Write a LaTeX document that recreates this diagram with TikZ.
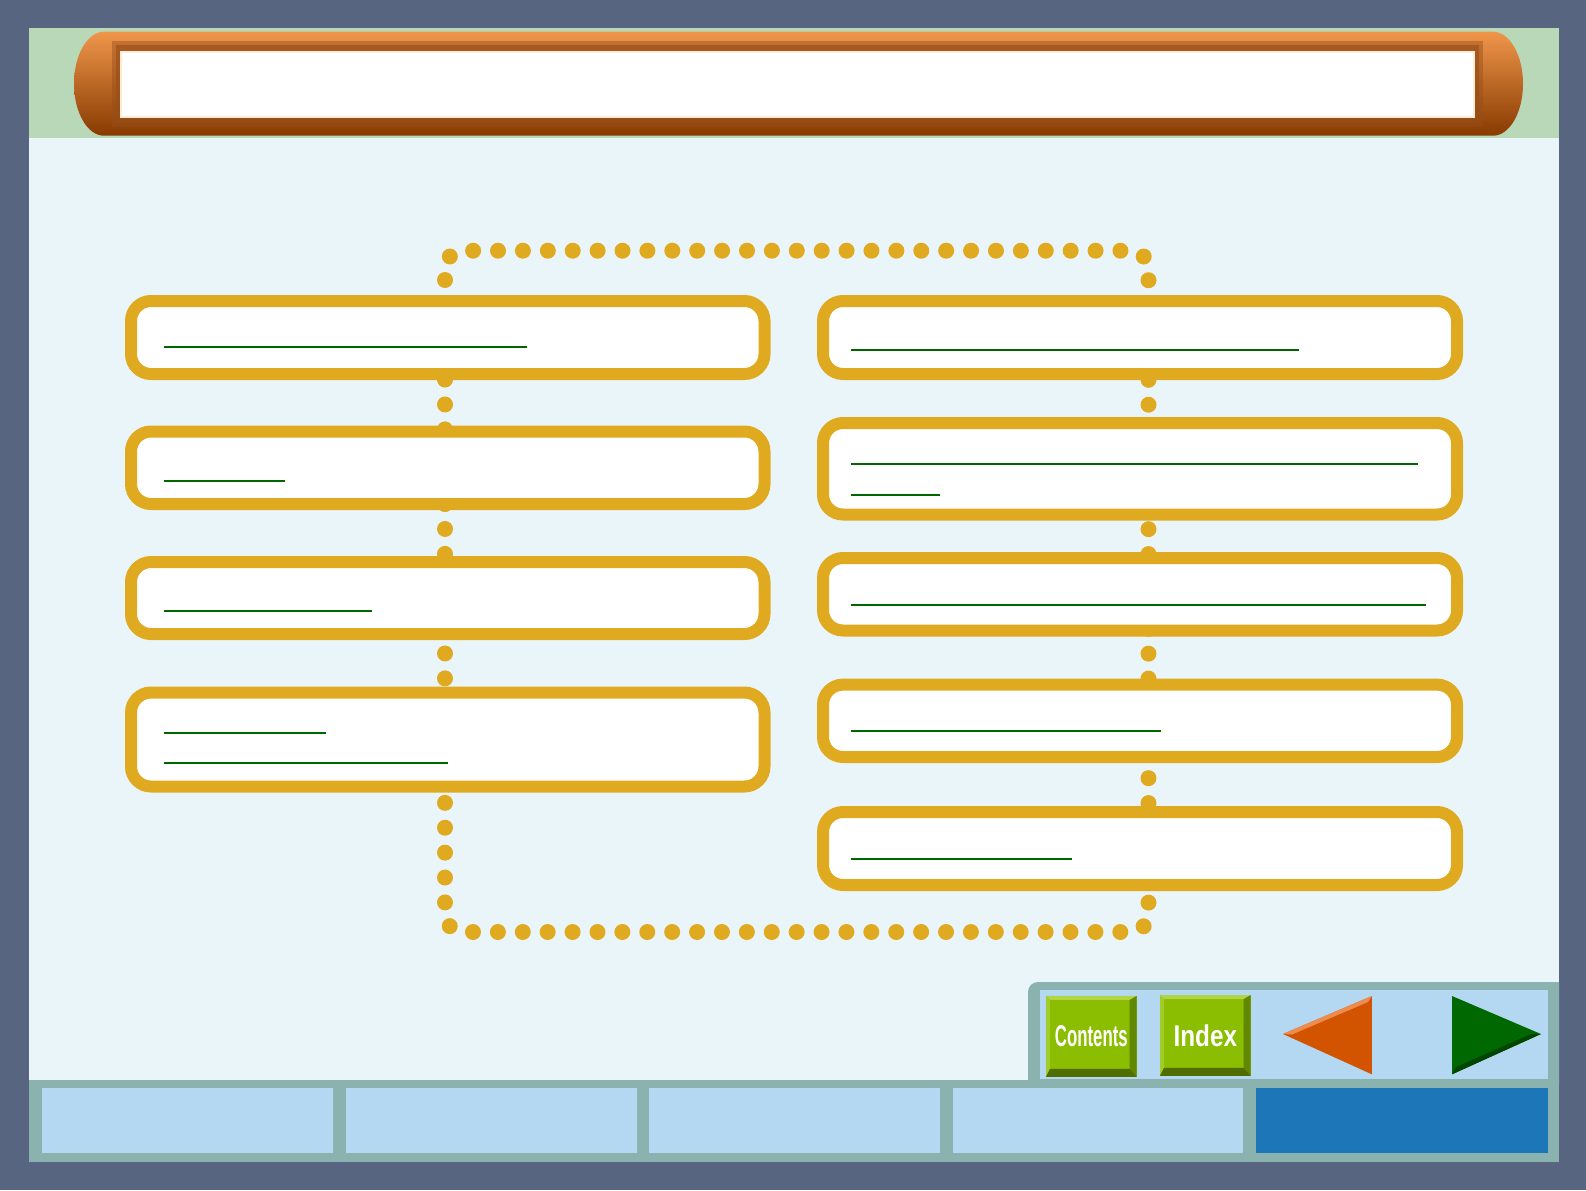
\documentclass[tikz,border=0pt]{standalone}
\usepackage{fontspec}
\setmainfont{Liberation Sans}
\usepackage{graphicx}
\usepackage{tikz}
\usepackage{xcolor}

\definecolor{frameBg}{RGB}{87,101,128}
\definecolor{pageBg}{RGB}{234,245,250}
\definecolor{bandGreen}{RGB}{184,216,184}
\definecolor{capTop}{RGB}{240,150,75}
\definecolor{capMid}{RGB}{215,108,30}
\definecolor{capBot}{RGB}{135,58,0}
\definecolor{capShadow}{RGB}{150,78,25}
\definecolor{capEdge}{RGB}{255,236,210}
\definecolor{menuGold}{RGB}{223,170,31}
\definecolor{linkGreen}{RGB}{0,102,0}
\definecolor{tealFrame}{RGB}{138,178,174}
\definecolor{tabBlue}{RGB}{181,216,242}
\definecolor{tabActive}{RGB}{28,118,184}
\definecolor{navGreen}{RGB}{139,189,0}
\definecolor{navLight}{RGB}{176,214,70}
\definecolor{navDark}{RGB}{98,135,0}
\definecolor{navDarker}{RGB}{80,110,0}
\definecolor{navOrange}{RGB}{210,84,0}
\definecolor{navOrangeLt}{RGB}{238,140,80}
\definecolor{navFwd}{RGB}{0,104,0}
\definecolor{navFwdDk}{RGB}{0,70,0}

\newcommand{\btnbevel}[1]{%
  \fill[navLight] (#1.north west) -- (#1.north east) -- ([xshift=-3.5pt,yshift=-2pt]#1.north east) -- ([xshift=2pt,yshift=-2pt]#1.north west) -- cycle;
  \fill[navLight!60!navGreen] (#1.north west) -- ([xshift=2pt,yshift=-2pt]#1.north west) -- ([xshift=2pt,yshift=4pt]#1.south west) -- (#1.south west) -- cycle;
  \fill[navDark] (#1.north east) -- (#1.south east) -- ([xshift=-3.5pt,yshift=4pt]#1.south east) -- ([xshift=-3.5pt,yshift=-2pt]#1.north east) -- cycle;
  \fill[navDarker] (#1.south west) -- (#1.south east) -- ([xshift=-3.5pt,yshift=4pt]#1.south east) -- ([xshift=2pt,yshift=4pt]#1.south west) -- cycle;}

\begin{document}
\begin{tikzpicture}[x=0.5pt, y=-0.5pt,
  menubox/.style={rectangle, draw=menuGold, fill=white, line width=6pt, rounded corners=10pt, inner sep=0pt, outer sep=0pt},
  leftbox/.style={menubox, minimum width=316.75pt},
  rightbox/.style={menubox, minimum width=317pt},
  linkline/.style={draw=linkGreen, line width=1pt},
  dotloop/.style={draw=menuGold, line width=8pt, line cap=round, dash pattern=on 0pt off 12.4485pt, dash phase=6.8pt, rounded corners=9pt},
  navbtn/.style={rectangle, fill=navGreen, text=white, font=\bfseries\fontsize{15}{15}\selectfont, inner sep=0pt, outer sep=0pt, minimum width=45.35pt, minimum height=40.4pt},
  tabcell/.style={fill=tabBlue}]
  \useasboundingbox (0,0) rectangle (1586,1190);
  \fill[frameBg] (0,0) rectangle (1586,1190);
  \fill[pageBg] (29,28) rectangle (1559,1162);
  \fill[bandGreen] (29,28) rectangle (1559,137.7);
  % title bar
  \shade[top color=capTop, middle color=capMid, bottom color=capBot] (104,31.7) -- (1493,31.7) arc[start angle=90, end angle=-90, x radius=15pt, y radius=26pt] -- (104,135.7) arc[start angle=270, end angle=90, x radius=15pt, y radius=26pt] -- cycle;
  \fill[capShadow, opacity=0.45] (112,41) rectangle (1483,127);
  \fill[capShadow, opacity=0.6] (116,45) rectangle (1479,122);
  \fill[white] (121,51.7) rectangle (1474,116.7);
  \draw[capEdge, line width=1pt] (121,51.7) rectangle (1474,116.7);
  % dotted loop behind the menu
  \coordinate (loopcorner) at (445,250.7);
  \draw[dotloop] (loopcorner) -- (445,932) -- (1148.5,932) -- (1148.5,250.7) -- cycle;
  % left column
  \node[leftbox, minimum height=36.5pt] (sec1) at (447.75,337.5) {};
  \node[leftbox, minimum height=36.25pt] (sec2) at (447.75,467.75) {};
  \node[leftbox, minimum height=36pt] (sec3) at (447.75,598) {};
  \node[leftbox, minimum height=47pt] (sec4) at (447.75,739.5) {};
  % right column
  \node[rightbox, minimum height=36.5pt] (sec5) at (1140,337.5) {};
  \node[rightbox, minimum height=45.75pt] (sec6) at (1140,468.75) {};
  \node[rightbox, minimum height=36.25pt] (sec7) at (1140,594.25) {};
  \node[rightbox, minimum height=36.2pt] (sec8) at (1140,720.8) {};
  \node[rightbox, minimum height=36.5pt] (sec9) at (1140,848.5) {};
  % link underlines
  \draw[linkline] (164,347) -- (527,347);
  \draw[linkline] (164,480.7) -- (285,480.7);
  \draw[linkline] (164,611) -- (372,611);
  \draw[linkline] (164,733) -- (326,733);
  \draw[linkline] (164,762.5) -- (448,762.5);
  \draw[linkline] (851,350) -- (1299,350);
  \draw[linkline] (851,463.9) -- (1418,463.9);
  \draw[linkline] (851,494.7) -- (940,494.7);
  \draw[linkline] (851,604.6) -- (1425.8,604.6);
  \draw[linkline] (851,731) -- (1160.8,731);
  \draw[linkline] (851,859) -- (1072,859);
  % navigation panel and tab bar
  \fill[tealFrame] (1028,1085) -- (1028,992) arc[start angle=180, end angle=90, radius=5pt] -- (1559,982) -- (1559,1085) -- cycle;
  \fill[tabBlue] (1040,990) rectangle (1548,1079.3);
  \fill[tealFrame] (29,1080) rectangle (1559,1162);
  \fill[tabcell] (41.5,1088.3) rectangle (332.8,1153.3);
  \fill[tabcell] (345.9,1088.3) rectangle (637.2,1153.3);
  \fill[tabcell] (649.4,1088.3) rectangle (939.7,1153.3);
  \fill[tabcell] (952.8,1088.3) rectangle (1243.1,1153.3);
  \fill[tabcell, fill=tabActive] (1256.3,1088.3) rectangle (1547.6,1153.3);
  % buttons
  \node[navbtn] (contents) at (1091.35,1036.35) {\scalebox{0.56}[1]{Contents}};
  \btnbevel{contents}
  \node[navbtn] (index) at (1205.35,1035.5) {\scalebox{0.81}[1]{Index}};
  \btnbevel{index}
  \coordinate (backtip) at (1283,1034);
  \fill[navOrange] (backtip) -- (1371.9,996) -- (1371.9,1074.3) -- cycle;
  \fill[navOrangeLt] (backtip) -- (1371.9,996) -- (1368,1002) -- (1292,1034.5) -- cycle;
  \coordinate (fwdtip) at (1540.9,1034);
  \fill[navFwd] (fwdtip) -- (1452,996) -- (1452,1074.3) -- cycle;
  \fill[navFwdDk] (fwdtip) -- (1452,1074.3) -- (1456,1067) -- (1531,1034) -- cycle;
\end{tikzpicture}
\end{document}
